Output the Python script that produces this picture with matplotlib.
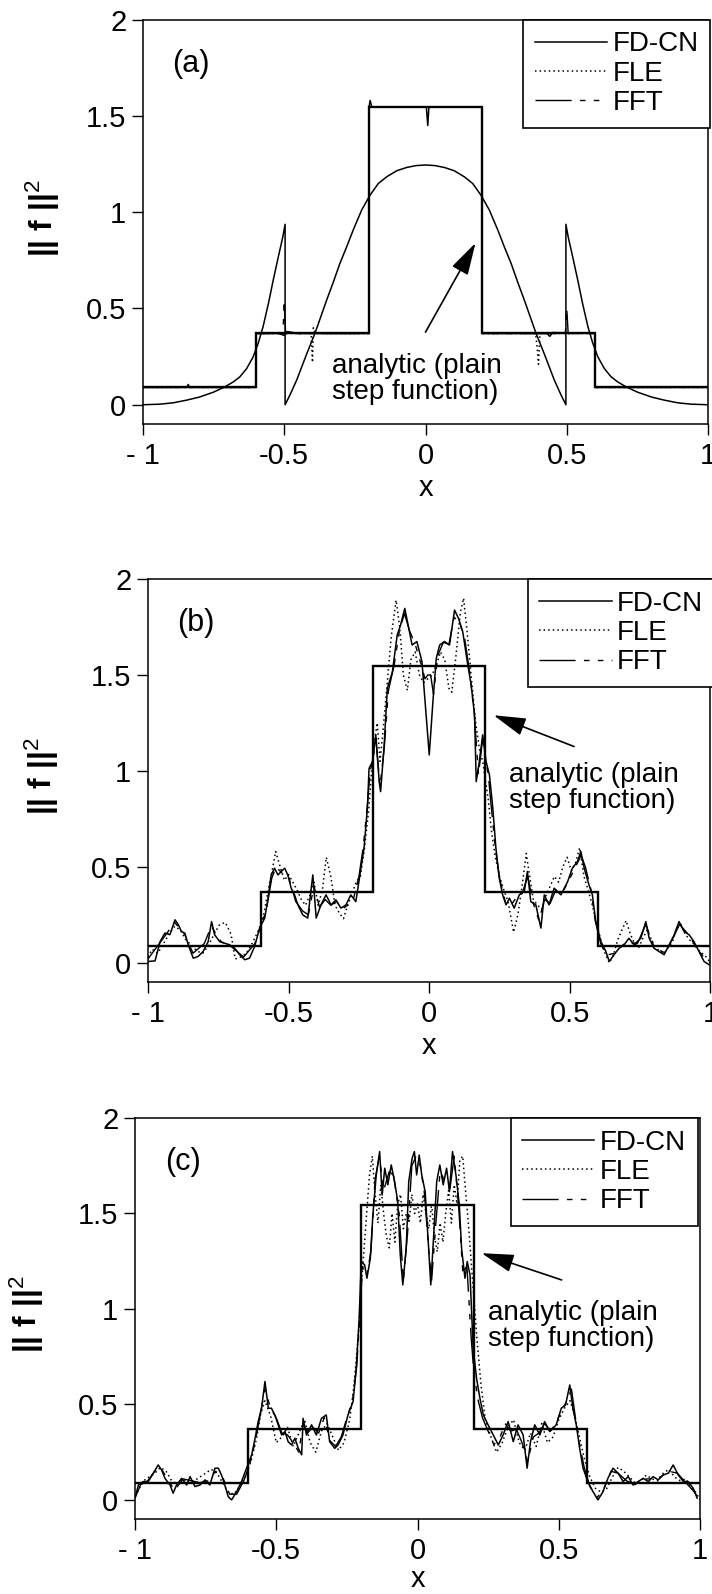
import matplotlib
matplotlib.use("Agg")
import matplotlib.pyplot as plt

plt.rcParams['font.family'] = ['Liberation Sans', 'DejaVu Sans']
plt.rcParams['mathtext.fontset'] = 'custom'
plt.rcParams['mathtext.rm'] = 'Liberation Sans'
plt.rcParams['mathtext.it'] = 'Liberation Sans:italic'
plt.rcParams['mathtext.bf'] = 'Liberation Sans:bold'

# ---------------- data ----------------
series_labels = ["FD-CN", "FLE", "FFT"]
xticks = [-1, -0.5, 0, 0.5, 1]
xtick_labels = ["- 1", "-0.5", "0", "0.5", "1"]
yticks = [0, 0.5, 1, 1.5, 2]
ytick_labels = ["0", "0.5", "1", "1.5", "2"]
panel_labels = ["(a)", "(b)", "(c)"]
annot_text = "analytic (plain\nstep function)"

# analytic plain step function
step_edges = [-1.0, -0.6, -0.2, 0.2, 0.6, 1.0]
step_levels = [0.09, 0.37, 1.545, 0.37, 0.09]

# panel (a): smooth curve
smooth_a_x = [-1.0, -0.94, -0.893, -0.845, -0.8, -0.751, -0.71, -0.68, -0.657, -0.633, -0.61,
              -0.592, -0.575, -0.556, -0.539, -0.521, -0.505, -0.497,
              -0.497, -0.48, -0.456, -0.42, -0.391, -0.35, -0.326, -0.303, -0.279, -0.256,
              -0.226, -0.196, -0.167, -0.137, -0.102, -0.067, -0.033, 0.0,
              0.033, 0.067, 0.102, 0.137, 0.167, 0.196, 0.226, 0.256, 0.279, 0.303, 0.326,
              0.35, 0.391, 0.42, 0.456, 0.48, 0.497,
              0.497, 0.505, 0.521, 0.539, 0.556, 0.575, 0.592, 0.61, 0.633, 0.657, 0.68,
              0.71, 0.751, 0.8, 0.845, 0.893, 0.94, 1.0]
smooth_a_y = [0.0, 0.003, 0.01, 0.024, 0.04, 0.065, 0.093, 0.119, 0.145, 0.188, 0.249,
              0.32, 0.405, 0.526, 0.647, 0.768, 0.872, 0.937,
              0.0, 0.05, 0.128, 0.266, 0.372, 0.543, 0.638, 0.734, 0.82, 0.907,
              1.011, 1.089, 1.149, 1.184, 1.215, 1.232, 1.242, 1.245,
              1.242, 1.232, 1.215, 1.184, 1.149, 1.089, 1.011, 0.907, 0.82, 0.734, 0.638,
              0.543, 0.372, 0.266, 0.128, 0.05, 0.0,
              0.937, 0.872, 0.768, 0.647, 0.526, 0.405, 0.32, 0.249, 0.188, 0.145, 0.119,
              0.093, 0.065, 0.04, 0.024, 0.01, 0.003, 0.0]

# panel (a): numerical solutions (almost on the step)
fdcn_a_x = [-1.0, -0.845, -0.84, -0.835, -0.6, -0.6, -0.52, -0.5, -0.49, -0.45, -0.2, -0.2, -0.196,
            -0.19, 0.003, 0.008, 0.012, 0.2, 0.2, 0.43, 0.44, 0.45, 0.6, 0.6, 1.0]
fdcn_a_y = [0.09, 0.09, 0.105, 0.09, 0.09, 0.37, 0.37, 0.36, 0.38, 0.37, 0.37, 1.545, 1.58,
            1.545, 1.545, 1.45, 1.545, 1.545, 0.37, 0.37, 0.355, 0.375, 0.37, 0.09, 0.09]
fle_a_x = [-1.0, -0.6, -0.6, -0.405, -0.4, -0.397, -0.39, -0.2, -0.2, 0.2, 0.2, 0.39, 0.395,
           0.4, 0.405, 0.6, 0.6, 1.0]
fle_a_y = [0.09, 0.09, 0.37, 0.37, 0.22, 0.4, 0.37, 0.37, 1.545, 1.545, 0.37, 0.37, 0.3,
           0.21, 0.37, 0.37, 0.09, 0.09]
fft_a_x = [-1.0, -0.6, -0.6, -0.505, -0.5, -0.495, -0.2, -0.2, 0.2, 0.2, 0.495, 0.5, 0.505,
           0.6, 0.6, 1.0]
fft_a_y = [0.09, 0.09, 0.37, 0.37, 0.52, 0.37, 0.37, 1.545, 1.545, 0.37, 0.37, 0.5, 0.37,
           0.37, 0.09, 0.09]

# panel (b)
fdcn_b_x = [-1.0, -0.975, -0.957, -0.94, -0.922, -0.904, -0.892, -0.881, -0.869, -0.857, -0.839,
            -0.822, -0.804, -0.786, -0.774, -0.763, -0.745, -0.727, -0.71, -0.692, -0.674, -0.656,
            -0.639, -0.621, -0.603, -0.585, -0.574, -0.562, -0.55, -0.538, -0.526, -0.514, -0.503,
            -0.491, -0.479, -0.467, -0.45, -0.432, -0.414, -0.402, -0.385, -0.367, -0.349, -0.332,
            -0.314, -0.296, -0.279, -0.261, -0.243, -0.232, -0.22, -0.214, -0.202, -0.19, -0.178,
            -0.173, -0.161, -0.149, -0.131, -0.114, -0.102, -0.087, -0.073, -0.061, -0.044, -0.026,
            -0.014, 0.0, 0.013, 0.025, 0.037, 0.054, 0.072, 0.09, 0.104, 0.119, 0.137, 0.149, 0.161,
            0.167, 0.178, 0.19, 0.202, 0.214, 0.226, 0.237, 0.249, 0.261, 0.273, 0.285, 0.302, 0.32,
            0.338, 0.349, 0.361, 0.379, 0.397, 0.409, 0.426, 0.444, 0.468, 0.492, 0.509, 0.527,
            0.539, 0.551, 0.568, 0.58, 0.592, 0.61, 0.628, 0.64, 0.657, 0.675, 0.693, 0.71, 0.728,
            0.752, 0.77, 0.782, 0.799, 0.817, 0.835, 0.853, 0.871, 0.888, 0.906, 0.924, 0.941,
            0.959, 0.977, 0.995]
fdcn_b_y = [0.007, 0.01, 0.11, 0.155, 0.147, 0.224, 0.198, 0.163, 0.155, 0.094, 0.024,
            0.033, 0.059, 0.11, 0.215, 0.146, 0.11, 0.102, 0.094, 0.076, 0.042, 0.016,
            0.024, 0.085, 0.181, 0.233, 0.328, 0.458, 0.493, 0.458, 0.476, 0.493, 0.458,
            0.389, 0.354, 0.302, 0.25, 0.233, 0.458, 0.233, 0.302, 0.354, 0.302, 0.328,
            0.285, 0.302, 0.354, 0.319, 0.493, 0.597, 0.805, 1.013, 1.048, 1.187, 0.944,
            0.892, 1.118, 1.43, 1.517, 1.708, 1.76, 1.847, 1.743, 1.656, 1.674, 1.57,
            1.344, 1.083, 1.361, 1.587, 1.656, 1.674, 1.656, 1.838, 1.795, 1.726, 1.552, 1.448, 1.292,
            0.944, 1.049, 1.188, 1.049, 0.979, 0.806, 0.597, 0.441, 0.354, 0.302, 0.337, 0.285, 0.354,
            0.372, 0.476, 0.319, 0.302, 0.181, 0.354, 0.302, 0.389, 0.354, 0.423, 0.493, 0.528,
            0.58, 0.493, 0.406, 0.354, 0.215, 0.111, 0.059, 0.007, 0.042, 0.076, 0.094, 0.128, 0.094,
            0.128, 0.215, 0.128, 0.076, 0.059, 0.042, 0.094, 0.146, 0.215, 0.163, 0.146, 0.111,
            0.059, 0.007, -0.01]
fle_b_x = [-1.0, -0.985, -0.965, -0.945, -0.925, -0.905, -0.885, -0.865, -0.845, -0.825, -0.805,
           -0.785, -0.765, -0.745, -0.725, -0.705, -0.69, -0.67, -0.65, -0.63, -0.61, -0.59, -0.575,
           -0.56, -0.546, -0.53, -0.515, -0.5, -0.485, -0.47, -0.455, -0.44, -0.425, -0.41, -0.395,
           -0.38, -0.366, -0.35, -0.335, -0.32, -0.305, -0.29, -0.275, -0.26, -0.245, -0.23, -0.215,
           -0.205, -0.195, -0.185, -0.175, -0.165, -0.15, -0.135, -0.118, -0.105, -0.092, -0.078,
           -0.065, -0.05, -0.035, -0.02, -0.005,
           0.01, 0.025, 0.04, 0.055, 0.07, 0.08, 0.095, 0.11, 0.122, 0.135, 0.15, 0.165, 0.18, 0.19,
           0.2, 0.21, 0.22, 0.235, 0.25, 0.265, 0.28, 0.3, 0.315, 0.33, 0.345, 0.357, 0.37, 0.385,
           0.4, 0.415, 0.43, 0.445, 0.46, 0.475, 0.49, 0.505, 0.52, 0.535, 0.55, 0.565, 0.58, 0.595,
           0.61, 0.625, 0.64, 0.655, 0.67, 0.685, 0.7, 0.715, 0.73, 0.745, 0.76, 0.775, 0.79, 0.805,
           0.82, 0.835, 0.85, 0.865, 0.88, 0.895, 0.91, 0.925, 0.94, 0.955, 0.97, 0.985, 1.0]
fle_b_y = [0.03, 0.07, 0.05, 0.1, 0.15, 0.19, 0.17, 0.12, 0.09, 0.06, 0.05,
           0.09, 0.15, 0.2, 0.21, 0.15, 0.02, 0.03, 0.05, 0.1, 0.16, 0.24, 0.36,
           0.47, 0.58, 0.5, 0.43, 0.46, 0.42, 0.38, 0.33, 0.3, 0.35, 0.42, 0.3,
           0.38, 0.55, 0.45, 0.3, 0.26, 0.23, 0.3, 0.36, 0.42, 0.45, 0.6, 0.8,
           1.0, 1.15, 1.25, 1.05, 1.2, 1.45, 1.7, 1.89, 1.75, 1.5, 1.42,
           1.58, 1.62, 1.5, 1.46, 1.48,
           1.5, 1.55, 1.62, 1.58, 1.43, 1.41, 1.6, 1.82, 1.9, 1.72, 1.48, 1.25, 1.1, 1.05,
           0.95, 0.85, 0.7, 0.55, 0.45, 0.38, 0.32, 0.16, 0.25, 0.4, 0.57, 0.45, 0.33, 0.3,
           0.28, 0.35, 0.4, 0.45, 0.42, 0.5, 0.55, 0.48, 0.52, 0.6, 0.45, 0.38, 0.3, 0.2,
           0.12, 0.05, 0.0, 0.04, 0.12, 0.17, 0.22, 0.15, 0.1, 0.08, 0.13, 0.17, 0.12, 0.08,
           0.06, 0.05, 0.08, 0.11, 0.18, 0.2, 0.15, 0.12, 0.1, 0.07, 0.05, 0.03, 0.0]
fft_b_x = [-1.0, -0.96, -0.93, -0.905, -0.87, -0.84, -0.8, -0.775, -0.74, -0.7, -0.66, -0.62, -0.6,
           -0.58, -0.56, -0.545, -0.525, -0.5, -0.475, -0.45, -0.43, -0.41, -0.39, -0.37, -0.35,
           -0.33, -0.31, -0.29, -0.27, -0.25, -0.235, -0.22, -0.21, -0.2, -0.19, -0.175, -0.16,
           -0.145, -0.125, -0.105, -0.088, -0.07, -0.05, -0.03, -0.015, -0.005,
           0.005, 0.015, 0.03, 0.05, 0.07, 0.088, 0.105, 0.125, 0.145, 0.16, 0.175, 0.19, 0.2, 0.21,
           0.22, 0.235, 0.25, 0.27, 0.29, 0.31, 0.33, 0.35, 0.37, 0.39, 0.41, 0.43, 0.45, 0.475,
           0.5, 0.52, 0.54, 0.555, 0.575, 0.59, 0.61, 0.63, 0.66, 0.7, 0.74, 0.77, 0.8, 0.84, 0.87,
           0.89, 0.92, 0.95, 0.98, 1.0]
fft_b_y = [0.02, 0.1, 0.16, 0.21, 0.15, 0.05, 0.1, 0.19, 0.11, 0.08, 0.03, 0.1, 0.19,
           0.27, 0.44, 0.5, 0.47, 0.45, 0.32, 0.27, 0.25, 0.4, 0.29, 0.33, 0.3,
           0.32, 0.28, 0.3, 0.33, 0.45, 0.6, 0.82, 1.0, 1.06, 1.17, 0.92, 1.12,
           1.42, 1.55, 1.74, 1.82, 1.73, 1.66, 1.56, 1.48, 1.5,
           1.5, 1.4, 1.6, 1.67, 1.66, 1.8, 1.78, 1.7, 1.5, 1.3, 0.98, 1.17, 1.06, 0.98,
           0.82, 0.6, 0.44, 0.32, 0.3, 0.34, 0.36, 0.45, 0.31, 0.22, 0.33, 0.31, 0.38, 0.37,
           0.44, 0.5, 0.56, 0.5, 0.38, 0.22, 0.1, 0.04, 0.05, 0.11, 0.1, 0.2, 0.08, 0.05, 0.14,
           0.2, 0.15, 0.08, 0.02, 0.0]

# panel (c)
fdcn_c_x = [-1.0, -0.988, -0.971, -0.953, -0.935, -0.918, -0.906, -0.894, -0.876, -0.865, -0.853,
            -0.835, -0.817, -0.805, -0.788, -0.77, -0.752, -0.735, -0.717, -0.705, -0.694, -0.682,
            -0.67, -0.658, -0.64, -0.623, -0.605, -0.587, -0.575, -0.564, -0.552, -0.54, -0.528,
            -0.517, -0.505, -0.493, -0.481, -0.469, -0.458, -0.446, -0.434, -0.422, -0.41, -0.405,
            -0.393, -0.375, -0.358, -0.34, -0.323, -0.311, -0.293, -0.281, -0.264, -0.246, -0.228,
            -0.217, -0.207, -0.199, -0.187, -0.179, -0.167, -0.158, -0.146, -0.134, -0.125, -0.116,
            -0.105, -0.093, -0.081, -0.07, -0.061, -0.052, -0.04, -0.031, -0.019, -0.011,
            -0.003, 0.006, 0.015, 0.027, 0.038, 0.047, 0.056, 0.068, 0.079, 0.091, 0.103, 0.113,
            0.124, 0.136, 0.148, 0.156, 0.168, 0.176, 0.186, 0.197, 0.209, 0.221, 0.233, 0.25,
            0.268, 0.286, 0.303, 0.321, 0.339, 0.356, 0.374, 0.388, 0.4, 0.415, 0.433, 0.45,
            0.468, 0.491, 0.509, 0.524, 0.539, 0.55, 0.562, 0.574, 0.586, 0.603, 0.621, 0.639,
            0.657, 0.674, 0.692, 0.71, 0.728, 0.746, 0.763, 0.781, 0.799, 0.817, 0.834, 0.852,
            0.87, 0.888, 0.905, 0.923, 0.941, 0.958, 0.976, 0.99]
fdcn_c_y = [0.009, 0.078, 0.096, 0.096, 0.14, 0.183, 0.157, 0.113, 0.078, 0.035, 0.078,
            0.113, 0.078, 0.122, 0.07, 0.078, 0.105, 0.078, 0.166, 0.166, 0.131, 0.078,
            0.017, 0.0, 0.044, 0.096, 0.166, 0.236, 0.323, 0.41, 0.48, 0.62, 0.48,
            0.48, 0.445, 0.393, 0.34, 0.358, 0.305, 0.288, 0.323, 0.27, 0.236, 0.427,
            0.34, 0.393, 0.34, 0.427, 0.445, 0.305, 0.27, 0.288, 0.34, 0.445, 0.515,
            0.689, 0.934, 1.248, 1.23, 1.161, 1.265, 1.492, 1.702, 1.824, 1.597, 1.737,
            1.65, 1.754, 1.667, 1.562, 1.283, 1.126, 1.318, 1.667, 1.789, 1.824,
            1.702, 1.806, 1.702, 1.615, 1.353, 1.126, 1.353, 1.667, 1.754, 1.65, 1.737, 1.615,
            1.824, 1.702, 1.545, 1.318, 1.161, 1.248, 1.178, 0.794, 0.637, 0.532, 0.445, 0.393,
            0.34, 0.288, 0.34, 0.41, 0.305, 0.393, 0.34, 0.166, 0.305, 0.393, 0.34, 0.41,
            0.358, 0.393, 0.48, 0.497, 0.602, 0.48, 0.393, 0.27, 0.166, 0.096, 0.044, 0.0,
            0.044, 0.113, 0.166, 0.14, 0.096, 0.122, 0.078, 0.096, 0.113, 0.096, 0.122, 0.105,
            0.131, 0.14, 0.183, 0.131, 0.096, 0.096, 0.061, 0.009]
fle_c_x = [-1.0, -0.985, -0.97, -0.95, -0.93, -0.91, -0.89, -0.87, -0.85, -0.83, -0.81, -0.79,
           -0.77, -0.75, -0.73, -0.71, -0.69, -0.67, -0.65, -0.63, -0.61, -0.59, -0.57, -0.555,
           -0.54, -0.52, -0.5, -0.48, -0.46, -0.44, -0.42, -0.4, -0.38, -0.36, -0.34, -0.32, -0.3,
           -0.28, -0.26, -0.24, -0.225, -0.21, -0.2, -0.19, -0.18, -0.17, -0.16, -0.15, -0.14,
           -0.13, -0.12, -0.11, -0.1, -0.09, -0.08, -0.07, -0.06, -0.05, -0.04, -0.03, -0.02, -0.01,
           0.0, 0.01, 0.02, 0.03, 0.04, 0.05, 0.06, 0.07, 0.08, 0.09, 0.1, 0.11, 0.12, 0.13, 0.14,
           0.15, 0.16, 0.17, 0.18, 0.19, 0.2, 0.21, 0.225, 0.24, 0.26, 0.28, 0.3, 0.32, 0.34, 0.36,
           0.38, 0.4, 0.42, 0.44, 0.46, 0.48, 0.5, 0.52, 0.54, 0.555, 0.57, 0.59, 0.61, 0.63, 0.65,
           0.67, 0.69, 0.71, 0.73, 0.75, 0.77, 0.79, 0.81, 0.83, 0.85, 0.87, 0.89, 0.91, 0.93,
           0.95, 0.97, 0.985, 1.0]
fle_c_y = [0.02, 0.06, 0.1, 0.12, 0.14, 0.17, 0.15, 0.1, 0.08, 0.11, 0.09, 0.1,
           0.12, 0.14, 0.16, 0.14, 0.09, 0.04, 0.03, 0.07, 0.12, 0.2, 0.32, 0.45,
           0.52, 0.44, 0.3, 0.33, 0.38, 0.28, 0.35, 0.42, 0.3, 0.25, 0.36, 0.4, 0.33,
           0.26, 0.3, 0.42, 0.6, 0.85, 1.1, 1.3, 1.5, 1.7, 1.8, 1.6, 1.45,
           1.65, 1.5, 1.38, 1.32, 1.5, 1.35, 1.55, 1.6, 1.42, 1.5, 1.45, 1.6, 1.5,
           1.55, 1.45, 1.6, 1.5, 1.42, 1.55, 1.38, 1.3, 1.45, 1.35, 1.5, 1.62, 1.45, 1.65, 1.55,
           1.78, 1.8, 1.62, 1.45, 1.25, 1.05, 0.85, 0.6, 0.42, 0.33, 0.25, 0.3, 0.38, 0.42, 0.3,
           0.26, 0.35, 0.28, 0.4, 0.3, 0.33, 0.42, 0.48, 0.52, 0.45, 0.35, 0.22, 0.12, 0.06, 0.04,
           0.06, 0.12, 0.17, 0.15, 0.12, 0.09, 0.1, 0.13, 0.11, 0.1, 0.14, 0.16, 0.12, 0.1,
           0.11, 0.06, 0.04, 0.0]
fft_c_x = [-1.0, -0.98, -0.955, -0.93, -0.91, -0.885, -0.86, -0.83, -0.8, -0.77, -0.74, -0.715,
           -0.69, -0.665, -0.64, -0.615, -0.595, -0.575, -0.555, -0.54, -0.52, -0.5, -0.48, -0.46,
           -0.44, -0.42, -0.405, -0.39, -0.37, -0.35, -0.33, -0.31, -0.29, -0.27, -0.25, -0.23,
           -0.215, -0.205, -0.195, -0.18, -0.165, -0.15, -0.135, -0.12, -0.1, -0.085, -0.065, -0.05,
           -0.035, -0.02, -0.005,
           0.01, 0.025, 0.04, 0.05, 0.065, 0.08, 0.1, 0.115, 0.13, 0.145, 0.16, 0.175, 0.19, 0.2,
           0.215, 0.23, 0.25, 0.27, 0.29, 0.31, 0.33, 0.35, 0.37, 0.39, 0.41, 0.43, 0.45, 0.47,
           0.49, 0.51, 0.53, 0.545, 0.56, 0.575, 0.59, 0.61, 0.635, 0.66, 0.685, 0.71, 0.74, 0.77,
           0.8, 0.83, 0.86, 0.89, 0.92, 0.95, 0.975, 1.0]
fft_c_y = [0.01, 0.08, 0.1, 0.15, 0.17, 0.11, 0.05, 0.11, 0.1, 0.09, 0.1, 0.15,
           0.12, 0.03, 0.03, 0.1, 0.18, 0.3, 0.46, 0.58, 0.48, 0.43, 0.35, 0.34,
           0.3, 0.25, 0.4, 0.35, 0.38, 0.35, 0.43, 0.31, 0.28, 0.33, 0.43, 0.52,
           0.7, 0.95, 1.22, 1.17, 1.3, 1.68, 1.8, 1.62, 1.72, 1.7, 1.5, 1.15,
           1.4, 1.75, 1.8,
           1.75, 1.6, 1.3, 1.15, 1.45, 1.72, 1.66, 1.63, 1.8, 1.55, 1.2, 1.22, 0.85, 0.66,
           0.52, 0.43, 0.36, 0.29, 0.32, 0.4, 0.36, 0.37, 0.3, 0.2, 0.33, 0.35, 0.4, 0.36,
           0.4, 0.47, 0.52, 0.58, 0.42, 0.28, 0.17, 0.07, 0.01, 0.06, 0.15, 0.14, 0.1, 0.08,
           0.11, 0.11, 0.12, 0.15, 0.14, 0.09, 0.05, 0.0]

# annotation geometry (data coordinates): text anchor, arrow tail, arrow head
annot_text_pos = [(-0.33, 0.135), (0.284, 0.91), (0.251, 0.91)]
arrow_tail = [(0.0, 0.377), (0.515, 1.127), (0.51, 1.152)]
arrow_head = [(0.177, 0.84), (0.229, 1.29), (0.227, 1.292)]

panels = [
    dict(fdcn=(fdcn_a_x, fdcn_a_y), fle=(fle_a_x, fle_a_y), fft=(fft_a_x, fft_a_y),
         smooth=(smooth_a_x, smooth_a_y)),
    dict(fdcn=(fdcn_b_x, fdcn_b_y), fle=(fle_b_x, fle_b_y), fft=(fft_b_x, fft_b_y), smooth=None),
    dict(fdcn=(fdcn_c_x, fdcn_c_y), fle=(fle_c_x, fle_c_y), fft=(fft_c_x, fft_c_y), smooth=None),
]

# ---------------- layout ----------------
W, H = 712, 1594
fig = plt.figure(figsize=(W / 100, H / 100), dpi=100)
# (left, right, top, bottom) in pixels
boxes = [(143, 708, 19.6, 424), (148, 710.5, 579, 982), (135, 700, 1118, 1519)]
legend_anchor_x = [1.004, 1.008, 0.996]
ylabel_x = [-0.177, -0.189, -0.191]
xlabel_pad = [3, 3, 0]

TICK_FS = 21
LEG_FS = 20
ANN_FS = 20
fft_dash = (0, (26, 6, 4, 6, 4, 6))
fle_dash = (0, (1.0, 2.0))

for i, (p, (l, r, t, b)) in enumerate(zip(panels, boxes)):
    ax = fig.add_axes([l / W, 1 - b / H, (r - l) / W, (b - t) / H])
    ax.set_xlim(-1, 1)
    ax.set_ylim(-0.1, 2)
    ax.set_xticks(xticks, xtick_labels)
    ax.set_yticks(yticks, ytick_labels)
    ax.tick_params(direction='out', length=8, width=1.0, labelsize=TICK_FS,
                   top=False, right=False)
    ax.tick_params(axis='y', pad=4)
    ax.tick_params(axis='x', pad=5)
    for s in ax.spines.values():
        s.set_linewidth(1.1)

    ax.stairs(step_levels, step_edges, baseline=None, color='black', lw=1.7, zorder=2)
    if p['smooth'] is not None:
        ax.plot(*p['smooth'], color='black', lw=1.1, zorder=3)
    h_fft, = ax.plot(*p['fft'], color='black', lw=1.0, linestyle=fft_dash, zorder=3,
                     label=series_labels[2])
    h_fle, = ax.plot(*p['fle'], color='black', lw=1.1, linestyle=fle_dash, zorder=3,
                     label=series_labels[1])
    h_fd, = ax.plot(*p['fdcn'], color='black', lw=1.1, zorder=4, label=series_labels[0])

    leg = ax.legend([h_fd, h_fle, h_fft], series_labels, loc='upper right',
                    bbox_to_anchor=(legend_anchor_x[i], 1.0), borderaxespad=0,
                    fontsize=LEG_FS, frameon=True, fancybox=False, framealpha=1,
                    edgecolor='black', handlelength=2.6, handletextpad=0.2,
                    labelspacing=0.12, borderpad=0.42)
    leg.get_frame().set_linewidth(1.2)
    leg.set_zorder(10)

    ax.text(-0.83, 1.77, panel_labels[i], fontsize=22, ha='center', va='center')
    ax.text(annot_text_pos[i][0], annot_text_pos[i][1], annot_text, fontsize=ANN_FS,
            ha='left', va='center', linespacing=1.0)
    ax.annotate('', xy=arrow_head[i], xytext=arrow_tail[i],
                arrowprops=dict(arrowstyle='-|>,head_length=1.0,head_width=0.28',
                                color='black', lw=1.2, mutation_scale=20,
                                shrinkA=0, shrinkB=0))

    ax.set_xlabel('x', fontsize=21, labelpad=xlabel_pad[i])
    ax.set_ylabel('|| f ||$^{2}$', fontsize=23, fontweight='bold', va='center')
    ax.yaxis.set_label_coords(ylabel_x[i], 0.51)

fig.savefig('out.png', dpi=100)
